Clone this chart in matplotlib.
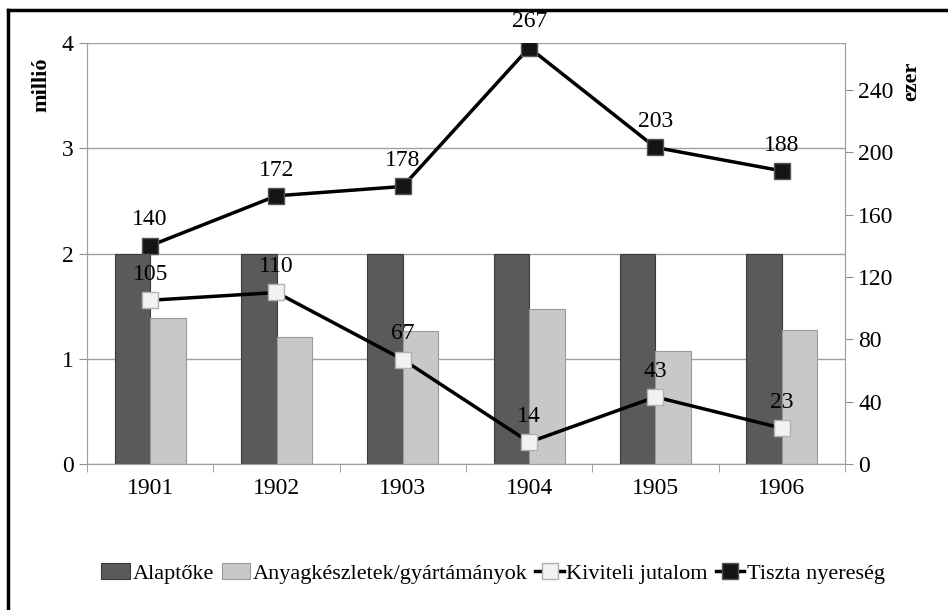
import matplotlib.pyplot as plt
import numpy as np

years = ["1901", "1902", "1903", "1904", "1905", "1906"]
alaptoke = [2.0, 2.0, 2.0, 2.0, 2.0, 2.0]
anyag = [1.39, 1.21, 1.26, 1.47, 1.07, 1.27]
kiviteli = [105, 110, 67, 14, 43, 23]
nyereseg = [140, 172, 178, 267, 203, 188]

plt.rcParams['font.family'] = ['Liberation Serif', 'DejaVu Serif']

fig = plt.figure(figsize=(9.48, 6.10), dpi=100)
ax = fig.add_axes([87 / 948, 146 / 610, 758 / 948, 421 / 610])
ax2 = ax.twinx()

x = np.arange(len(years))
w = 0.28
ax.bar(x - w / 2, alaptoke, w, color='#5a5a5a', edgecolor='#3a3a3a', linewidth=0.8,
       label='Alaptőke', zorder=2)
ax.bar(x + w / 2, anyag, w, color='#c8c8c8', edgecolor='#9a9a9a', linewidth=0.8,
       label='Anyagkészletek/gyártámányok', zorder=2)

ax.set_ylim(0, 4)
ax.set_xlim(-0.5, 5.5)
ax.set_yticks([0, 1, 2, 3, 4])
ax.yaxis.grid(True, color='#a0a0a0', linewidth=1)
ax.set_axisbelow(True)
ax.set_xticks(x)
ax.set_xticklabels(years)
ax.set_xticks(np.arange(-0.5, 6, 1), minor=True)
ax.tick_params(axis='x', which='major', length=0, labelsize=17, pad=10)
ax.tick_params(axis='x', which='minor', length=6, color='#909090', direction='out')
ax.tick_params(axis='y', labelsize=17, length=6, color='#909090')
ax.set_ylabel('millió', fontsize=16, fontweight='bold')

ax2.set_ylim(0, 270)
ax2.set_yticks([0, 40, 80, 120, 160, 200, 240])
ax2.tick_params(axis='y', labelsize=17, length=6, color='#909090')
ax2.set_ylabel('ezer', fontsize=16, fontweight='bold')
ax2.yaxis.set_label_coords(1.074, 0.91)
ax.yaxis.set_label_coords(-0.047, 0.9)

for a in (ax, ax2):
    a.spines['top'].set_visible(False)
    for s in ('left', 'right', 'bottom'):
        a.spines[s].set_color('#a0a0a0')

ax2.plot(x, kiviteli, color='black', linewidth=2.5, marker='s', markersize=12,
         markerfacecolor='#f2f2f2', markeredgecolor='#b0b0b0', label='Kiviteli jutalom', zorder=3)
ax2.plot(x, nyereseg, color='black', linewidth=2.5, marker='s', markersize=12,
         markerfacecolor='#151515', markeredgecolor='#555555', label='Tiszta nyereség', zorder=3)

for xi, v in zip(x, kiviteli):
    ax2.annotate(str(v), (xi, v), textcoords='offset points', xytext=(0, 11),
                 ha='center', va='bottom', fontsize=17)
for xi, v in zip(x, nyereseg):
    ax2.annotate(str(v), (xi, v), textcoords='offset points', xytext=(0, 11),
                 ha='center', va='bottom', fontsize=17)

h1, l1 = ax.get_legend_handles_labels()
h2, l2 = ax2.get_legend_handles_labels()
fig.legend(h1 + h2, l1 + l2, loc='center', bbox_to_anchor=(0.52, 0.06), ncol=4,
           frameon=False, fontsize=16, handlelength=1.3, handletextpad=0.1, columnspacing=0.35)

# outer frame (top and left lines)
fig.add_artist(plt.Line2D([8 / 948, 1.0], [1 - 10 / 610, 1 - 10 / 610], color='black', linewidth=2.5))
fig.add_artist(plt.Line2D([8 / 948, 8 / 948], [0, 1 - 10 / 610], color='black', linewidth=2.5))

fig.savefig('out.png', dpi=100)
